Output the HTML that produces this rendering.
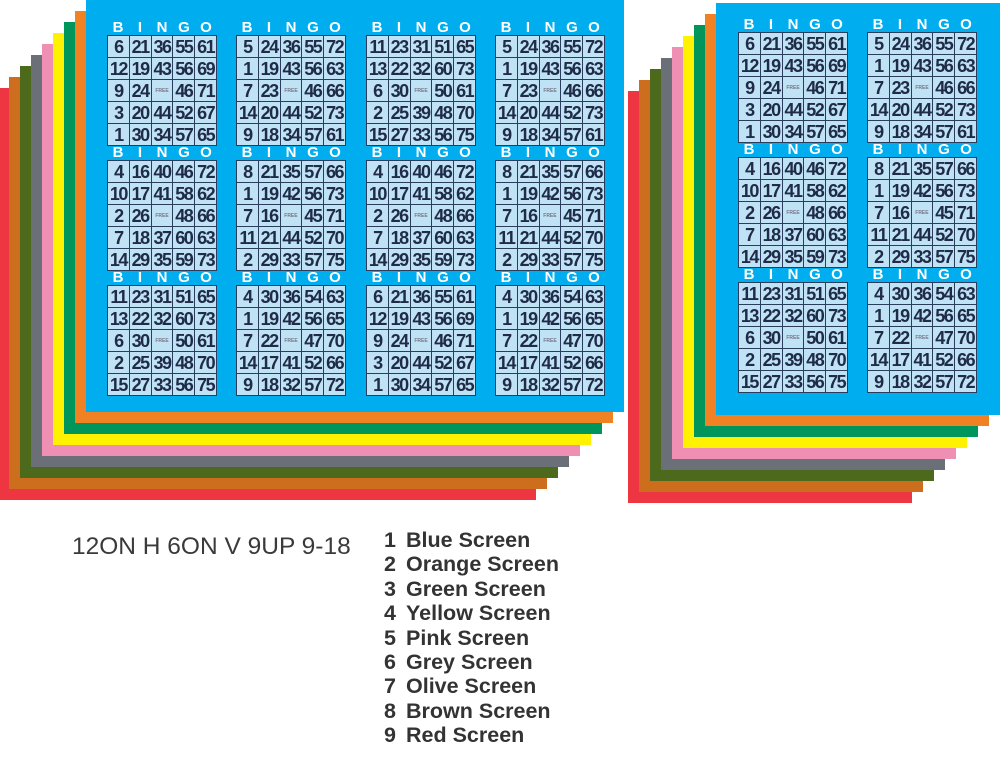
<!DOCTYPE html>
<html><head><meta charset="utf-8"><style>
body{margin:0;width:1000px;height:761px;background:#fff;position:relative;overflow:hidden;font-family:"Liberation Sans",sans-serif}
.s{position:absolute}
.card{position:absolute;width:110px}
.hd{position:absolute;top:-14px;left:0;width:110px;height:14px;display:flex;color:#fff;font-weight:bold;font-size:15px;line-height:14px}
.hd span{flex:1;text-align:center}
table{border-collapse:collapse;position:absolute;top:0;left:0}
td{width:21px;height:21px;padding:0;border:1px solid #2a3d5c;background:#bfe2f4;color:#1f2b48;font-weight:bold;font-size:18px;text-align:center;letter-spacing:-1.5px;line-height:20px;overflow:hidden;white-space:nowrap}
td.f{font-size:5px;color:#778;letter-spacing:0}
.lab{position:absolute;left:72px;top:533px;font-size:24.5px;color:#3a3a3a}
.list{position:absolute;left:384px;top:528px;font-size:21.5px;font-weight:bold;color:#333;line-height:24.4px}
.list span{display:inline-block;width:22px}
</style></head><body>
<div id="root"></div>
<div class="lab">12ON H 6ON V 9UP 9-18</div>
<div class="list">
<div><span>1</span>Blue Screen</div>
<div><span>2</span>Orange Screen</div>
<div><span>3</span>Green Screen</div>
<div><span>4</span>Yellow Screen</div>
<div><span>5</span>Pink Screen</div>
<div><span>6</span>Grey Screen</div>
<div><span>7</span>Olive Screen</div>
<div><span>8</span>Brown Screen</div>
<div><span>9</span>Red Screen</div>
</div>
<script>
var cols=["#ee3542","#cc6e1e","#4d6a1c","#6b7078","#ef8fb3","#fff200","#00955a","#f08224","#00aeef"];
var R=document.getElementById('root');
function sheet(x,y,w,h,c){var d=document.createElement('div');d.className='s';d.style.cssText='left:'+x+'px;top:'+y+'px;width:'+w+'px;height:'+h+'px;background:'+c;R.appendChild(d);}
for(var i=0;i<9;i++){sheet(86-11*(8-i),0+11*(8-i),538,412,cols[i]);}
for(var i=0;i<9;i++){sheet(716-11*(8-i),3+11*(8-i),284,412,cols[i]);}
var A1=[[6,21,36,55,61],[12,19,43,56,69],[9,24,0,46,71],[3,20,44,52,67],[1,30,34,57,65]];
var A2=[[5,24,36,55,72],[1,19,43,56,63],[7,23,0,46,66],[14,20,44,52,73],[9,18,34,57,61]];
var A3=[[11,23,31,51,65],[13,22,32,60,73],[6,30,0,50,61],[2,25,39,48,70],[15,27,33,56,75]];
var B1=[[4,16,40,46,72],[10,17,41,58,62],[2,26,0,48,66],[7,18,37,60,63],[14,29,35,59,73]];
var B2=[[8,21,35,57,66],[1,19,42,56,73],[7,16,0,45,71],[11,21,44,52,70],[2,29,33,57,75]];
var C2=[[4,30,36,54,63],[1,19,42,56,65],[7,22,0,47,70],[14,17,41,52,66],[9,18,32,57,72]];
function card(x,y,d){var c=document.createElement('div');c.className='card';c.style.left=x+'px';c.style.top=y+'px';
var h='<div class="hd"><span>B</span><span>I</span><span>N</span><span>G</span><span>O</span></div><table>';
for(var r=0;r<5;r++){h+='<tr>';for(var k=0;k<5;k++){var v=d[r][k];h+=v?'<td>'+v+'</td>':'<td class="f">FREE</td>';}h+='</tr>';}
c.innerHTML=h+'</table>';R.appendChild(c);}
var L=[[A1,A2,A3,A2],[B1,B2,B1,B2],[A3,C2,A1,C2]];
var lx=[107,236,366,495];
for(var r=0;r<3;r++)for(var k=0;k<4;k++)card(lx[k],35+125*r,L[r][k]);
var RR=[[A1,A2],[B1,B2],[A3,C2]];var rx=[738,867];
for(var r=0;r<3;r++)for(var k=0;k<2;k++)card(rx[k],32+125*r,RR[r][k]);
</script>
</body></html>
